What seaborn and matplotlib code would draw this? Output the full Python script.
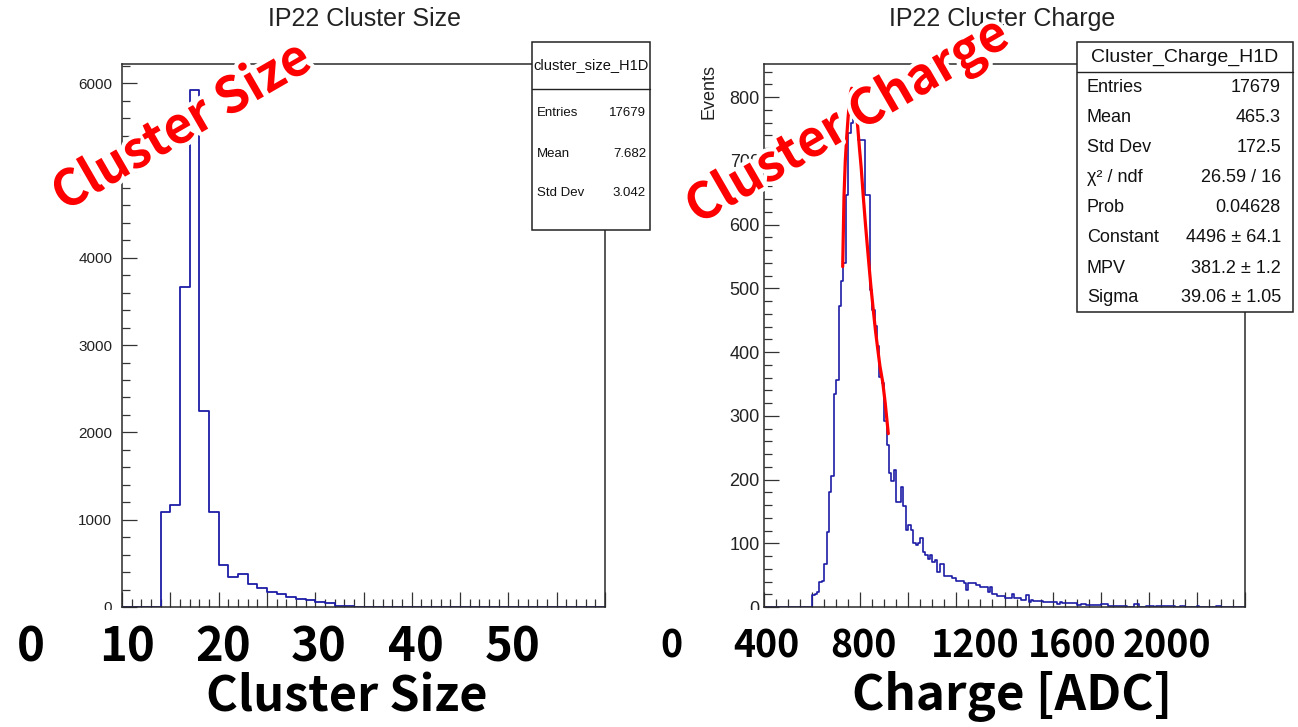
import numpy as np
import pandas as pd
import matplotlib
matplotlib.use("Agg")
import matplotlib.pyplot as plt
from matplotlib import font_manager
from matplotlib.ticker import MultipleLocator
from matplotlib.patches import Rectangle
from matplotlib.lines import Line2D
import matplotlib.patheffects as pe
import seaborn as sns

# ---------------- data ----------------
size_bin_lo = list(range(0, 50))          # cluster size bins, width 1
size_counts = [0, 0, 0, 3, 1090, 1165, 3670, 5920, 2250, 1090,
               480, 347, 378, 263, 213, 172, 152, 111, 88, 77,
               57, 42, 15, 15, 5, 5, 4, 4, 4, 4,
               0, 3, 3, 0, 0, 0, 0, 0, 0, 0,
               0, 0, 0, 0, 0, 0, 0, 0, 0, 0]

charge_bin_lo = list(range(200, 1200, 5))  # cluster charge bins, width 5
charge_counts = [0, 0, 0, 0, 0, 0, 0, 0, 0, 0,
                 0, 0, 0, 0, 0, 0, 0, 0, 0, 0,
                 19, 20, 23, 39, 41, 68, 118, 180, 205, 334,
                 356, 472, 512, 540, 646, 743, 759, 775, 811, 733,
                 733, 733, 646, 646, 497, 466, 441, 410, 361, 352,
                 292, 254, 210, 197, 215, 165, 165, 189, 158, 121,
                 129, 121, 100, 98, 100, 108, 87, 82, 76, 82,
                 71, 73, 55, 68, 67, 48, 48, 48, 45, 45,
                 41, 41, 41, 37, 27, 37, 37, 37, 35, 35,
                 32, 32, 32, 23, 32, 21, 21, 18, 18, 18,
                 14, 14, 14, 21, 14, 14, 14, 11, 11, 19,
                 8, 11, 9, 9, 9, 9, 8, 8, 8, 8,
                 8, 8, 5, 8, 7, 7, 7, 7, 7, 7,
                 3, 3, 5, 5, 3, 3, 3, 3, 3, 3,
                 4, 4, 4, 1, 1, 1, 1, 1, 1, 1,
                 1, 0, 0, 0, 5, 4, 0, 0, 0, 1,
                 1, 1, 0, 2, 2, 1, 2, 1, 2, 1,
                 1, 0, 0, 1, 1, 0, 0, 0, 0, 0,
                 1, 0, 0, 0, 0, 0, 0, 0, 1, 1,
                 0, 0, 0, 0, 0, 0, 0, 0, 0, 0]

# Landau fit curve
fit_x = [363.6, 366.3, 369.0, 372.0, 375.0, 377.4, 380.0, 382.3, 385.0, 388.0,
         391.3, 395.0, 398.2, 402.0, 406.4, 411.0, 416.8, 422.0, 427.2, 432.0,
         437.6, 441.0, 446.8, 452.0, 458.4]
fit_y = [534, 644, 700, 738, 770, 790, 808, 814, 808, 795,
         780, 752, 722, 690, 644, 600, 549, 505, 466, 432,
         398, 378, 353, 320, 272]

size_stats = [("Entries", "17679"), ("Mean", "7.682"), ("Std Dev", "3.042")]
charge_stats = [("Entries", "17679"), ("Mean", "465.3"), ("Std Dev", "172.5"),
                ("\u03c7\u00b2 / ndf", "26.59 / 16"), ("Prob", "0.04628"),
                ("Constant", "4496 \u00b1 64.1"), ("MPV", "381.2 \u00b1 1.2"),
                ("Sigma", "39.06 \u00b1 1.05")]

size_overlay_ticks = ["0", "10", "20", "30", "40", "50"]
charge_overlay_ticks = ["0", "400", "800", "1200", "1600", "2000"]

# ---------------- style ----------------
sns.set_style("ticks")
plt.rcParams["font.family"] = ["Liberation Sans", "DejaVu Sans"]
ROOT_FONT = ["Liberation Sans", "DejaVu Sans"]
JP_FONT = ["Noto Sans CJK JP", "DejaVu Sans"]
HCOL = "#1c1ca6"

_names = {f.name for f in font_manager.fontManager.ttflist}
if "Liberation Sans Narrow" in _names:
    NARROW_FONT = ["Liberation Sans Narrow", "DejaVu Sans"]
    NARROW_SIZE = 33
else:
    NARROW_FONT = JP_FONT
    NARROW_SIZE = 27

W, H = 1298, 727
fig = plt.figure(figsize=(W / 100, H / 100), dpi=100)
fig.patch.set_facecolor("white")


def fx(x):
    return x / W


def fy(y):
    return 1 - y / H


ax1 = fig.add_axes([fx(122), fy(607), (605 - 122) / W, (607 - 64) / H])
ax2 = fig.add_axes([fx(764), fy(607), (1245 - 764) / W, (607 - 64) / H])

# histograms
size_df = pd.DataFrame({"size": np.array(size_bin_lo) + 0.5, "count": size_counts})
size_edges = [float(v) for v in size_bin_lo] + [float(size_bin_lo[-1] + 1)]
sns.histplot(data=size_df, x="size", weights="count", bins=size_edges,
             element="step", fill=False, color=HCOL, linewidth=1.3, ax=ax1)

charge_df = pd.DataFrame({"charge": np.array(charge_bin_lo) + 2.5, "count": charge_counts})
charge_edges = [float(v) for v in charge_bin_lo] + [float(charge_bin_lo[-1] + 5)]
sns.histplot(data=charge_df, x="charge", weights="count", bins=charge_edges,
             element="step", fill=False, color=HCOL, linewidth=1.2, ax=ax2)

fit_df = pd.DataFrame({"x": fit_x, "y": fit_y})
sns.lineplot(data=fit_df, x="x", y="y", color="#ff0000", linewidth=2.3,
             sort=False, ax=ax2, zorder=3)

ax1.set_xlim(0, 50)
ax1.set_ylim(0, 6220)
ax2.set_xlim(200, 1200)
ax2.set_ylim(0, 852)

ax1.xaxis.set_major_locator(MultipleLocator(5))
ax1.xaxis.set_minor_locator(MultipleLocator(1))
ax1.yaxis.set_major_locator(MultipleLocator(1000))
ax1.yaxis.set_minor_locator(MultipleLocator(200))
ax2.xaxis.set_major_locator(MultipleLocator(100))
ax2.xaxis.set_minor_locator(MultipleLocator(25))
ax2.yaxis.set_major_locator(MultipleLocator(100))
ax2.yaxis.set_minor_locator(MultipleLocator(20))

for ax in (ax1, ax2):
    ax.set_xlabel("")
    ax.set_ylabel("")
    for s in ax.spines.values():
        s.set_color("#2a2a2a")
        s.set_linewidth(1.1)
    ax.tick_params(which="both", direction="in", top=False, right=False,
                   labelbottom=False, color="#333333", width=0.9)
    ax.tick_params(which="major", length=11)
    ax.tick_params(which="minor", length=6)

ax1.tick_params(axis="y", labelsize=11, pad=7, labelcolor="#222222")
ax2.tick_params(axis="y", labelsize=13, pad=3, labelcolor="#222222")
for lab in ax1.get_yticklabels() + ax2.get_yticklabels():
    lab.set_family(ROOT_FONT)

ax2.set_ylabel("Events", loc="top", fontsize=13, family=ROOT_FONT, color="#222222")
ax2.yaxis.set_label_coords(-0.096, 1.0)

# titles
fig.text(fx(364), fy(19), "IP22 Cluster Size", ha="center", va="center",
         fontsize=18, family=ROOT_FONT, color="#222222")
fig.text(fx(1002), fy(19), "IP22 Cluster Charge", ha="center", va="center",
         fontsize=18, family=ROOT_FONT, color="#222222")


# stats boxes
def stats_box(x0, x1, y0, y1, ysep, title, title_fs, rows, row_ys, fs, tx, vx):
    rect = Rectangle((fx(x0), fy(y1)), (x1 - x0) / W, (y1 - y0) / H,
                     transform=fig.transFigure, facecolor="white",
                     edgecolor="#222222", linewidth=1.1, zorder=10)
    fig.add_artist(rect)
    fig.add_artist(Line2D([fx(x0), fx(x1)], [fy(ysep), fy(ysep)],
                          transform=fig.transFigure, color="#222222",
                          linewidth=1.0, zorder=11))
    fig.text(fx((x0 + x1) / 2), fy((y0 + ysep) / 2), title, ha="center",
             va="center", fontsize=title_fs, family=ROOT_FONT, color="#111111",
             zorder=12)
    for (lab, val), yy in zip(rows, row_ys):
        fig.text(fx(tx), fy(yy), lab, ha="left", va="center", fontsize=fs,
                 family=ROOT_FONT, color="#111111", zorder=12)
        fig.text(fx(vx), fy(yy), val, ha="right", va="center", fontsize=fs,
                 family=ROOT_FONT, color="#111111", zorder=12)


stats_box(532, 650, 42, 230, 89, "cluster_size_H1D", 10.5, size_stats,
          [113, 154, 193], 9.5, 537, 646)
stats_box(1077, 1293, 42, 312, 72, "Cluster_Charge_H1D", 14, charge_stats,
          [87, 117, 148, 178, 207, 237, 268, 297], 13, 1087, 1281)

# white cover over original axis labels
fig.add_artist(Rectangle((0, 0), 1, fy(609.5), transform=fig.transFigure,
                         facecolor="white", edgecolor="none", zorder=5))

# overlay tick labels
for lab, xx in zip(size_overlay_ticks, [31, 127.5, 223, 319, 416, 513]):
    fig.text(fx(xx), fy(647), lab, ha="center", va="center", fontsize=34,
             weight="bold", family=JP_FONT, color="black", zorder=6)
for lab, xx in zip(charge_overlay_ticks, [671, 766.7, 863, 975, 1071.7, 1167]):
    fig.text(fx(xx), fy(646), lab, ha="center", va="center", fontsize=NARROW_SIZE,
             weight="bold", family=NARROW_FONT, color="black", zorder=6)
fig.text(fx(347), fy(697), "Cluster Size", ha="center", va="center",
         fontsize=35, weight="bold", family=JP_FONT, color="black", zorder=6)
fig.text(fx(1012), fy(697), "Charge [ADC]", ha="center", va="center",
         fontsize=35.5, weight="bold", family=JP_FONT, color="black", zorder=6)

# red rotated annotations
halo = [pe.withStroke(linewidth=6, foreground="white")]
fig.text(fx(182), fy(127), "Cluster Size", ha="center", va="center",
         rotation=30, rotation_mode="anchor", fontsize=36, weight="bold",
         family=JP_FONT, color="#ff0000", path_effects=halo, zorder=20)
fig.text(fx(848), fy(122), "Cluster Charge", ha="center", va="center",
         rotation=30, rotation_mode="anchor", fontsize=36, weight="bold",
         family=JP_FONT, color="#ff0000", path_effects=halo, zorder=20)

fig.savefig("out.png", dpi=100, facecolor="white")
